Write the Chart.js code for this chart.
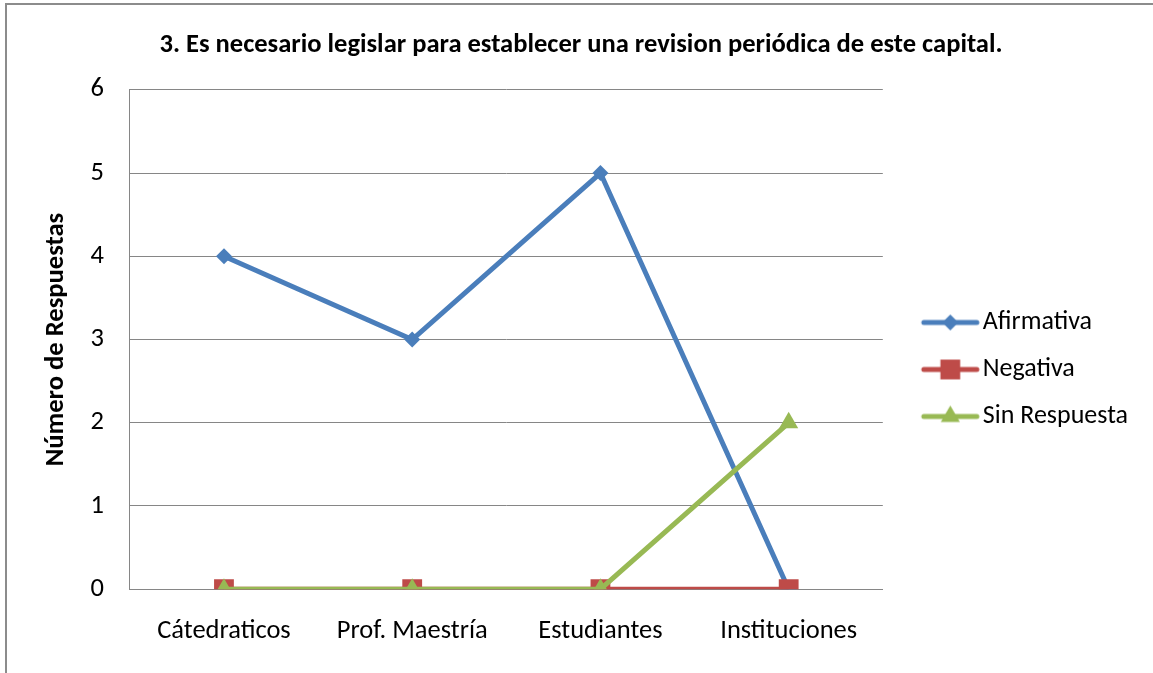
<!DOCTYPE html>
<html>
<head>
<meta charset="utf-8">
<script src="https://cdn.jsdelivr.net/npm/chart.js@4/dist/chart.umd.min.js"></script>
<style>
  html, body { margin: 0; padding: 0; background: #fff; }
  #wrap { position: relative; width: 1153px; height: 673px; overflow: hidden; }
  #frame { position: absolute; left: 5px; top: 3px; width: 1200px; height: 700px;
           border-left: 2px solid #8c8c8c; border-top: 2px solid #8c8c8c; pointer-events: none; }
  canvas { position: absolute; left: 0; top: 0; }
</style>
</head>
<body>
<div id="wrap">
  <canvas id="chart" width="1153" height="673"></canvas>
  <div id="frame"></div>
</div>
<script>
// datos del gráfico
const categorias = ['Cátedraticos', 'Prof. Maestría', 'Estudiantes', 'Instituciones'];
const afirmativa = [4, 3, 5, 0];
const negativa = [0, 0, 0, 0];
const sinRespuesta = [0, 0, 0, 2];
const ticksY = [0, 1, 2, 3, 4, 5, 6];

const FUENTE = 'Carlito, Lato, sans-serif';
const AZUL = '#4a7ebb';
const ROJO = '#be4b48';
const VERDE = '#98b954';
const GROSOR = 5;

// icono de leyenda: línea + marcador
function iconoLeyenda(color, forma, r) {
    const c = document.createElement('canvas');
    c.width = 90; c.height = 30;
    const ctx = c.getContext('2d');
    const cy = 15, cx = 58.5;
    ctx.strokeStyle = color;
    ctx.lineWidth = GROSOR;
    ctx.lineCap = 'round';
    ctx.beginPath();
    ctx.moveTo(32, cy);
    ctx.lineTo(85, cy);
    ctx.stroke();
    ctx.fillStyle = color;
    ctx.beginPath();
    if (forma === 'rectRot') {
        ctx.moveTo(cx - r, cy); ctx.lineTo(cx, cy - r); ctx.lineTo(cx + r, cy); ctx.lineTo(cx, cy + r);
    } else if (forma === 'rect') {
        const s = r * Math.SQRT1_2;
        ctx.rect(cx - s, cy - s, 2 * s, 2 * s);
    } else {
        ctx.moveTo(cx, cy - r);
        ctx.lineTo(cx + Math.sin(2 * Math.PI / 3) * r, cy - Math.cos(2 * Math.PI / 3) * r);
        ctx.lineTo(cx + Math.sin(4 * Math.PI / 3) * r, cy - Math.cos(4 * Math.PI / 3) * r);
    }
    ctx.closePath();
    ctx.fill();
    return c;
}

const series = [
    { label: 'Afirmativa', data: afirmativa, color: AZUL, forma: 'rectRot', r: 8, orden: 2 },
    { label: 'Negativa', data: negativa, color: ROJO, forma: 'rect', r: 14, orden: 1 },
    { label: 'Sin Respuesta', data: sinRespuesta, color: VERDE, forma: 'triangle', r: 11, orden: 0 }
];

const iconos = series.map(s => iconoLeyenda(s.color, s.forma, s.r));

new Chart(document.getElementById('chart'), {
    type: 'line',
    data: {
        labels: categorias,
        datasets: series.map(s => ({
            label: s.label,
            data: s.data,
            order: s.orden,
            borderColor: s.color,
            backgroundColor: s.color,
            borderWidth: GROSOR,
            pointStyle: s.forma,
            pointRadius: s.r,
            pointHoverRadius: s.r,
            pointBorderWidth: 0,
            tension: 0
        }))
    },
    options: {
        responsive: false,
        animation: false,
        layout: { padding: { left: 24, right: 15, top: 0, bottom: 0 } },
        plugins: {
            title: {
                display: true,
                text: '3. Es necesario legislar para establecer una revision periódica de este capital.',
                color: '#000',
                font: { family: FUENTE, size: 26.55, weight: 'bold' },
                padding: { top: 29, bottom: 29 }
            },
            legend: {
                position: 'right',
                title: { display: true, text: ' ', font: { size: 10 }, padding: { top: 54, bottom: 0 } },
                labels: {
                    color: '#000',
                    font: { family: FUENTE, size: 26 },
                    usePointStyle: true,
                    pointStyleWidth: 66,
                    padding: 21,
                    generateLabels: chart => chart.data.datasets.map((ds, i) => ({
                        text: ds.label,
                        fontColor: '#000',
                        pointStyle: iconos[i],
                        fillStyle: ds.borderColor,
                        strokeStyle: ds.borderColor,
                        lineWidth: 0,
                        hidden: false,
                        datasetIndex: i
                    }))
                }
            },
            tooltip: { enabled: false }
        },
        scales: {
            x: {
                offset: true,
                grid: { display: false, drawTicks: false },
                border: { color: '#868686', width: 1 },
                ticks: { color: '#000', font: { family: FUENTE, size: 26.5 }, padding: 26 }
            },
            y: {
                min: 0,
                max: 6,
                afterBuildTicks: axis => { axis.ticks = ticksY.map(v => ({ value: v })); },
                grid: { color: '#868686', lineWidth: 1, drawTicks: false },
                border: { color: '#868686', width: 1 },
                ticks: { color: '#000', font: { family: FUENTE, size: 26.5 }, padding: 26 },
                title: {
                    display: true,
                    text: 'Número de Respuestas',
                    color: '#000',
                    font: { family: FUENTE, size: 26.6, weight: 'bold' },
                    padding: { top: 16, bottom: -7.5 }
                }
            }
        }
    }
});
</script>
</body>
</html>
